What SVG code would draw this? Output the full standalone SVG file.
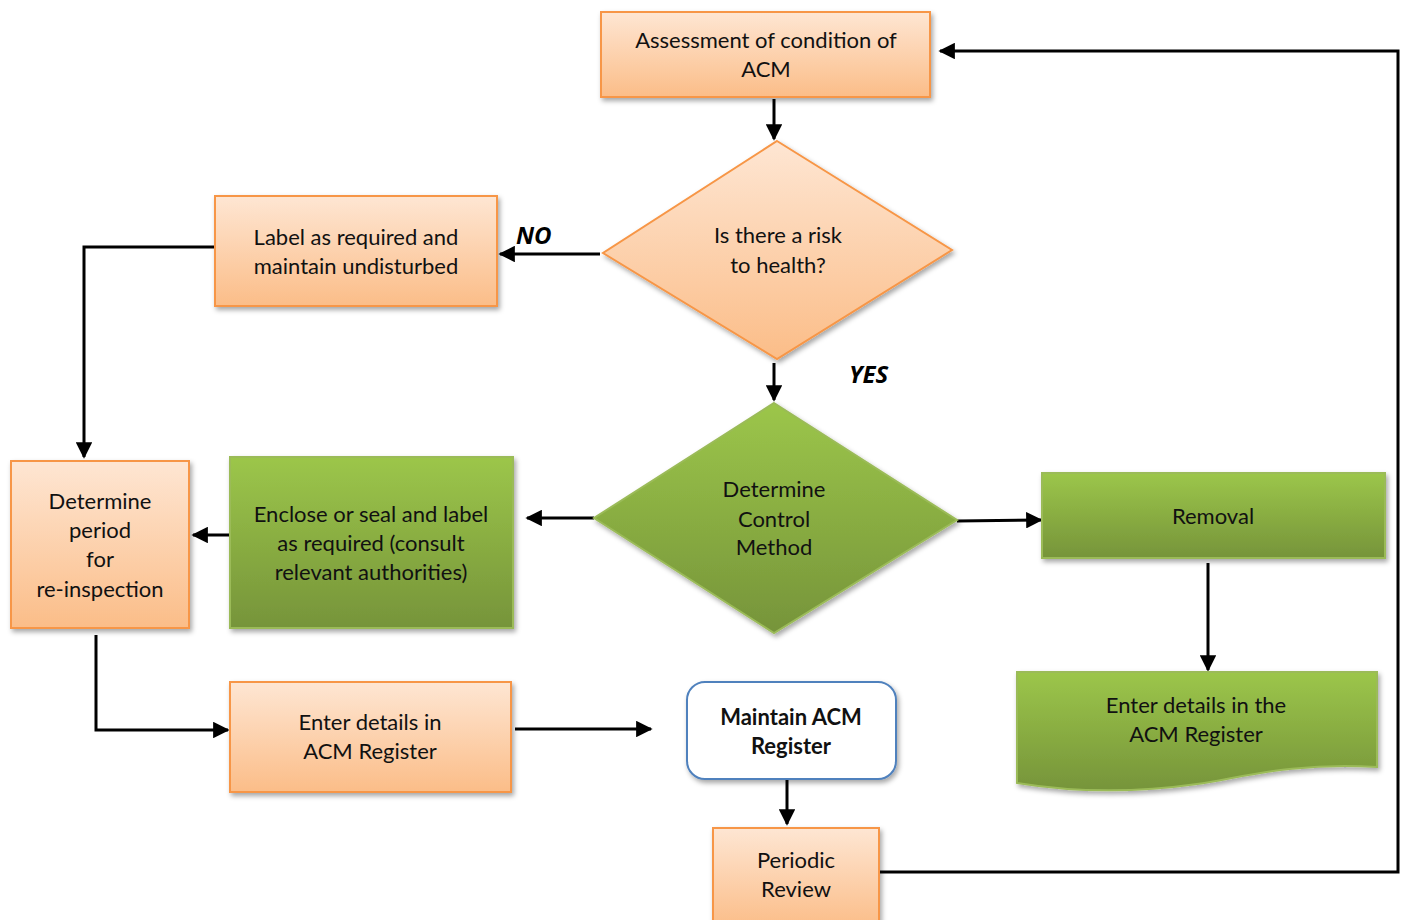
<svg xmlns="http://www.w3.org/2000/svg" width="1403" height="920" viewBox="0 0 1403 920">
<defs>
<linearGradient id="og" x1="0" y1="0" x2="0" y2="1"><stop offset="0" stop-color="#fee6d3"/><stop offset="1" stop-color="#fbbd88"/></linearGradient>
<linearGradient id="gg" x1="0" y1="0" x2="0" y2="1"><stop offset="0" stop-color="#9cc64a"/><stop offset="1" stop-color="#76943a"/></linearGradient>
<filter id="sh" x="-10%" y="-10%" width="125%" height="130%"><feDropShadow dx="2" dy="3" stdDeviation="2.5" flood-color="#000" flood-opacity="0.35"/></filter>
<marker id="ah" viewBox="0 0 10 10" refX="9" refY="5" markerWidth="5.5" markerHeight="5.5" markerUnits="strokeWidth" orient="auto"><path d="M0,0 L10,5 L0,10 z" fill="#000"/></marker>
<style>
.o{fill:url(#og);stroke:#f79646;stroke-width:2;filter:url(#sh)}
.g{fill:url(#gg);stroke:#9bbb59;stroke-width:2;filter:url(#sh)}
.t{font-family:Lato,"Open Sans",sans-serif;font-size:22px;fill:#111;text-anchor:middle}
.b{font-weight:bold}
.lbl{font-family:"Open Sans",sans-serif;font-size:24px;font-weight:bold;font-style:italic;fill:#000}
.c{fill:none;stroke:#000;stroke-width:3}
</style>
</defs>
<g id="connectors">
<path class="c" d="M774,99 L774,139" marker-end="url(#ah)"/>
<path class="c" d="M600,254 L500,254" marker-end="url(#ah)"/>
<path class="c" d="M215,247 L84,247 L84,457" marker-end="url(#ah)"/>
<path class="c" d="M774,363 L774,400" marker-end="url(#ah)"/>
<path class="c" d="M594,518 L527,518" marker-end="url(#ah)"/>
<path class="c" d="M957,521 L1041,520" marker-end="url(#ah)"/>
<path class="c" d="M1208,563 L1208,670" marker-end="url(#ah)"/>
<path class="c" d="M230,535 L193,535" marker-end="url(#ah)"/>
<path class="c" d="M96,635 L96,730 L228,730" marker-end="url(#ah)"/>
<path class="c" d="M515,729 L651,729" marker-end="url(#ah)"/>
<path class="c" d="M787,779 L787,824" marker-end="url(#ah)"/>
<path class="c" d="M879,872 L1398,872 L1398,51 L940,51" marker-end="url(#ah)"/>
<text class="lbl" x="516" y="244">NO</text>
<text class="lbl" x="849" y="383">YES</text>
</g>
<g id="assess">
<rect class="o" x="601" y="12" width="329" height="85"/>
<text class="t" x="766" y="48">Assessment of condition of</text>
<text class="t" x="766" y="77">ACM</text>
</g>
<g id="risk">
<path class="o" d="M777,141 L952,250 L777,359 L603,253 Z"/>
<text class="t" x="778" y="243">Is there a risk</text>
<text class="t" x="778" y="273">to health?</text>
</g>
<g id="label">
<rect class="o" x="215" y="196" width="282" height="110"/>
<text class="t" x="356" y="245">Label as required and</text>
<text class="t" x="356" y="274">maintain undisturbed</text>
</g>
<g id="control">
<path class="g" d="M774,403 L957,520 L774,633 L594,518 Z"/>
<text class="t" x="774" y="497">Determine</text>
<text class="t" x="774" y="527">Control</text>
<text class="t" x="774" y="555">Method</text>
</g>
<g id="removal">
<rect class="g" x="1042" y="473" width="343" height="85"/>
<text class="t" x="1213" y="524">Removal</text>
</g>
<g id="enterGreen">
<path class="g" d="M1017,672 L1377,672 L1377,767 C1290,762 1240,778 1197,784 C1120,795 1060,790 1017,783 Z"/>
<text class="t" x="1196" y="713">Enter details in the</text>
<text class="t" x="1196" y="742">ACM Register</text>
</g>
<g id="enclose">
<rect class="g" x="230" y="457" width="283" height="171"/>
<text class="t" x="371" y="522">Enclose or seal and label</text>
<text class="t" x="371" y="551">as required (consult</text>
<text class="t" x="371" y="580">relevant authorities)</text>
</g>
<g id="period">
<rect class="o" x="11" y="461" width="178" height="167"/>
<text class="t" x="100" y="509">Determine</text>
<text class="t" x="100" y="538">period</text>
<text class="t" x="100" y="567">for</text>
<text class="t" x="100" y="597">re-inspection</text>
</g>
<g id="enterOrange">
<rect class="o" x="230" y="682" width="281" height="110"/>
<text class="t" x="370" y="730">Enter details in</text>
<text class="t" x="370" y="759">ACM Register</text>
</g>
<g id="maintain">
<rect x="687" y="682" width="209" height="97" rx="18" fill="#fff" stroke="#4f81bd" stroke-width="2" filter="url(#sh)"/>
<text class="t b" x="791" y="725">Maintain ACM</text>
<text class="t b" x="791" y="754">Register</text>
</g>
<g id="periodic">
<rect class="o" x="713" y="828" width="166" height="100"/>
<text class="t" x="796" y="868">Periodic</text>
<text class="t" x="796" y="897">Review</text>
</g>
</svg>
